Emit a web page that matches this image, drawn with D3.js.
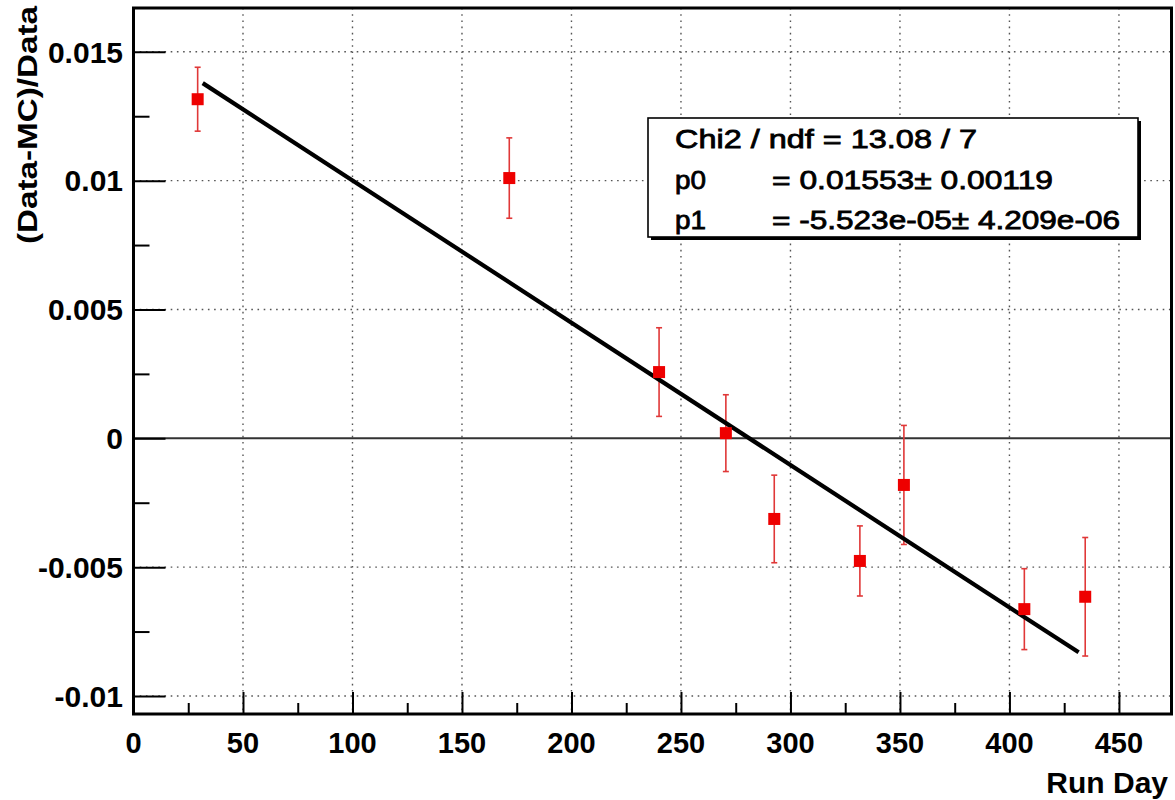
<!DOCTYPE html>
<html>
<head>
<meta charset="utf-8">
<script src="https://cdn.jsdelivr.net/npm/d3@7"></script>
<style>
  html, body { margin: 0; padding: 0; background: #fff; }
  svg { display: block; font-family: "Liberation Sans", Arial, Helvetica, sans-serif; }
</style>
</head>
<body>
<svg id="chart" width="1175" height="800"></svg>
<script>
// Run day of each measurement
const runDay = [29.3, 171.6, 240.0, 270.5, 292.6, 331.7, 351.8, 406.8, 434.6];
// Relative difference (Data-MC)/Data
const relDiff = [0.01316, 0.01010, 0.00257, 0.00020, -0.00313, -0.00476, -0.00181, -0.00663, -0.00615];
// Uncertainty on each point
const relErr = [0.00124, 0.00156, 0.00172, 0.00149, 0.00170, 0.00136, 0.00231, 0.00157, 0.00230];

// Linear fit y = p0 + p1 * x
const p0 = 0.01553, p0Err = 0.00119;
const p1 = -5.523e-05, p1Err = 4.209e-06;
const chi2 = 13.08, ndf = 7;
const fitRange = [31.6, 431.6];

const xTicks = [0, 50, 100, 150, 200, 250, 300, 350, 400, 450];
const xMinorTicks = [25, 75, 125, 175, 225, 275, 325, 375, 425];
const yTicks = [-0.01, -0.005, 0, 0.005, 0.01, 0.015];
const yTickLabels = ["-0.01", "-0.005", "0", "0.005", "0.01", "0.015"];
const yMinorTicks = [-0.0075, -0.0025, 0.0025, 0.0075, 0.0125];

const xTitle = "Run Day";
const yTitle = "(Data-MC)/Data";

const frame = { left: 133.5, top: 8, right: 1171.5, bottom: 714 };

const svg = d3.select("#chart");

const x = d3.scaleLinear().domain([0, 474]).range([frame.left, frame.right]);
const y = d3.scaleLinear().domain([-0.0107, 0.0167]).range([frame.bottom, frame.top]);

// Dotted grid at major ticks
const grid = svg.append("g").attr("class", "grid");
grid.selectAll("line.vg").data(xTicks.filter(d => d > 0)).join("line")
  .attr("class", "vg")
  .attr("x1", d => x(d)).attr("x2", d => x(d))
  .attr("y1", frame.top).attr("y2", frame.bottom)
  .attr("stroke", "#555").attr("stroke-width", 1.4)
  .attr("stroke-dasharray", "1.6,4.6");
grid.selectAll("line.hg").data(yTicks.filter(d => d !== 0)).join("line")
  .attr("class", "hg")
  .attr("x1", frame.left).attr("x2", frame.right)
  .attr("y1", d => y(d)).attr("y2", d => y(d))
  .attr("stroke", "#555").attr("stroke-width", 1.4)
  .attr("stroke-dasharray", "1.6,4.6");

// Zero reference line
svg.append("line")
  .attr("x1", frame.left).attr("x2", frame.right)
  .attr("y1", y(0)).attr("y2", y(0))
  .attr("stroke", "#333").attr("stroke-width", 2);

// Axes: ticks drawn inward, ROOT style
const xAxisMajor = d3.axisTop(x).tickValues(xTicks).tickSize(22).tickFormat("");
const xAxisMinor = d3.axisTop(x).tickValues(xMinorTicks).tickSize(11).tickFormat("");
const yAxisMajor = d3.axisRight(y).tickValues(yTicks).tickSize(32).tickFormat("");
const yAxisMinor = d3.axisRight(y).tickValues(yMinorTicks).tickSize(16).tickFormat("");

function styleAxis(g) {
  g.select(".domain").remove();
  g.selectAll(".tick line").attr("stroke", "#000").attr("stroke-width", 2);
}
svg.append("g").attr("transform", `translate(0,${frame.bottom})`).call(xAxisMajor).call(styleAxis);
svg.append("g").attr("transform", `translate(0,${frame.bottom})`).call(xAxisMinor).call(styleAxis);
svg.append("g").attr("transform", `translate(${frame.left},0)`).call(yAxisMajor).call(styleAxis);
svg.append("g").attr("transform", `translate(${frame.left},0)`).call(yAxisMinor).call(styleAxis);

// Tick labels
svg.append("g").selectAll("text").data(xTicks).join("text")
  .attr("x", d => x(d)).attr("y", 753)
  .attr("text-anchor", "middle")
  .attr("font-size", 29).attr("font-weight", "bold")
  .text(d => d);
svg.append("g").selectAll("text").data(yTicks).join("text")
  .attr("x", 123).attr("y", d => y(d))
  .attr("dy", "0.36em")
  .attr("text-anchor", "end")
  .attr("font-size", 30).attr("font-weight", "bold")
  .text((d, i) => yTickLabels[i]);

// Axis titles
svg.append("text")
  .attr("x", 1168).attr("y", 793)
  .attr("text-anchor", "end")
  .attr("font-size", 30).attr("font-weight", "bold")
  .text(xTitle);
svg.append("text")
  .attr("transform", "translate(37,125) rotate(-90)")
  .attr("text-anchor", "middle")
  .attr("font-size", 28).attr("font-weight", "bold")
  .attr("textLength", 238).attr("lengthAdjust", "spacingAndGlyphs")
  .text(yTitle);

// Error bars
const pts = runDay.map((d, i) => ({ x: d, y: relDiff[i], e: relErr[i] }));
const bars = svg.append("g").attr("stroke", "#e03838").attr("stroke-width", 1.6);
bars.selectAll("line.eb").data(pts).join("line")
  .attr("class", "eb")
  .attr("x1", d => x(d.x)).attr("x2", d => x(d.x))
  .attr("y1", d => y(d.y + d.e)).attr("y2", d => y(d.y - d.e));
bars.selectAll("line.capt").data(pts).join("line")
  .attr("class", "capt")
  .attr("x1", d => x(d.x) - 3).attr("x2", d => x(d.x) + 3)
  .attr("y1", d => y(d.y + d.e)).attr("y2", d => y(d.y + d.e));
bars.selectAll("line.capb").data(pts).join("line")
  .attr("class", "capb")
  .attr("x1", d => x(d.x) - 3).attr("x2", d => x(d.x) + 3)
  .attr("y1", d => y(d.y - d.e)).attr("y2", d => y(d.y - d.e));

// Fit line
const fitLine = d3.line().x(d => x(d)).y(d => y(p0 + p1 * d));
svg.append("path")
  .attr("d", fitLine(fitRange))
  .attr("fill", "none").attr("stroke", "#000").attr("stroke-width", 4.2);

// Markers
const m = 12;
svg.append("g").selectAll("rect").data(pts).join("rect")
  .attr("x", d => x(d.x) - m / 2).attr("y", d => y(d.y) - m / 2)
  .attr("width", m).attr("height", m)
  .attr("fill", "#ee0000");

// Frame
svg.append("rect")
  .attr("x", frame.left).attr("y", frame.top)
  .attr("width", frame.right - frame.left).attr("height", frame.bottom - frame.top)
  .attr("fill", "none").attr("stroke", "#000").attr("stroke-width", 3);

// Fit statistics box
const box = { x: 648, y: 118, w: 490, h: 119 };
svg.append("rect")
  .attr("x", box.x + 3).attr("y", box.y + 3).attr("width", box.w).attr("height", box.h)
  .attr("fill", "#000");
svg.append("rect")
  .attr("x", box.x).attr("y", box.y).attr("width", box.w).attr("height", box.h)
  .attr("fill", "#fff").attr("stroke", "#000").attr("stroke-width", 1.6);

const fmtP1 = v => v.toExponential(3).replace(/e([+-])(\d)$/, "e$10$2");
const statRows = [
  { name: null, text: `Chi2 / ndf = ${chi2.toFixed(2)} / ${ndf}`, len: 302, base: 148 },
  { name: "p0", text: `= ${p0.toFixed(5)}\u00b1 ${p0Err.toFixed(5)}`, len: 281, base: 189 },
  { name: "p1", text: `= ${fmtP1(p1)}\u00b1 ${fmtP1(p1Err)}`, len: 348, base: 229 }
];
const stat = svg.append("g").attr("font-size", 26)
  .attr("stroke", "#000").attr("stroke-width", 0.8);
statRows.forEach(r => {
  if (r.name) {
    stat.append("text").attr("x", 675).attr("y", r.base)
      .attr("textLength", 31).attr("lengthAdjust", "spacingAndGlyphs")
      .text(r.name);
    stat.append("text").attr("x", 772).attr("y", r.base)
      .attr("textLength", r.len).attr("lengthAdjust", "spacingAndGlyphs")
      .text(r.text);
  } else {
    stat.append("text").attr("x", 675).attr("y", r.base)
      .attr("textLength", r.len).attr("lengthAdjust", "spacingAndGlyphs")
      .text(r.text);
  }
});
</script>
</body>
</html>
